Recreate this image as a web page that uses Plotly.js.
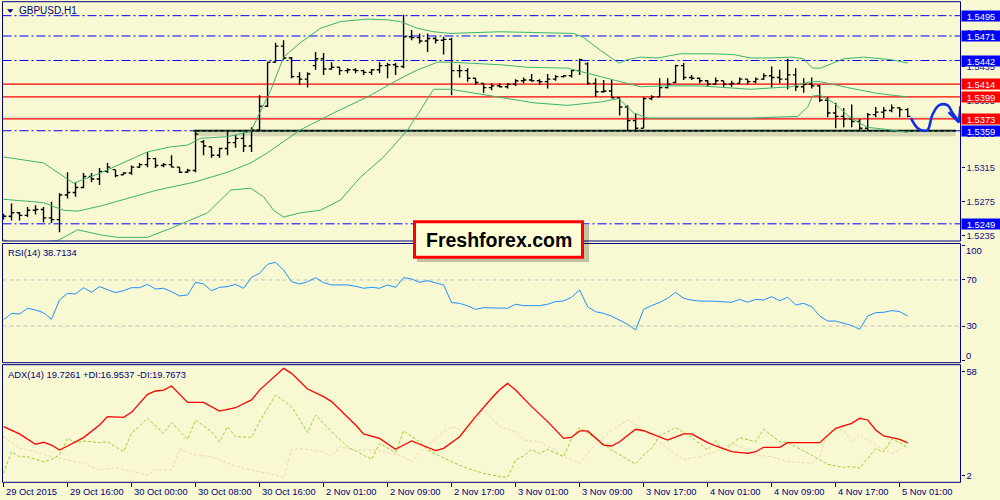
<!DOCTYPE html>
<html><head><meta charset="utf-8">
<script src="https://cdn.plot.ly/plotly-3.0.1.min.js"></script>
<style>html,body{margin:0;padding:0;background:#F8F8D2;}#chart{width:1000px;height:500px;}</style>
</head><body><div id="chart"></div><script>
// ---------- DATA ----------
const timeLabels = ['29 Oct 2015','29 Oct 16:00','30 Oct 00:00','30 Oct 08:00','30 Oct 16:00','2 Nov 01:00','2 Nov 09:00','2 Nov 17:00','3 Nov 01:00','3 Nov 09:00','3 Nov 17:00','4 Nov 01:00','4 Nov 09:00','4 Nov 17:00','5 Nov 01:00'];
const timeLabelBars = [0,8,16,24,32,40,48,56,64,72,80,88,96,104,112];

const openP = [1.5256,1.5258,1.5262,1.5259,1.5265,1.5266,1.5256,1.5254,1.5283,1.5286,
1.5292,1.5305,1.5302,1.5311,1.5313,1.5307,1.5309,1.5316,1.5319,1.5326,
1.5318,1.5319,1.5316,1.5310,1.5312,1.5346,1.5340,1.5330,1.5338,1.5345,
1.5350,1.5341,1.5360,1.5388,1.5440,1.5459,1.5445,1.5423,1.5420,1.5436,
1.5444,1.5432,1.5434,1.5430,1.5431,1.5430,1.5428,1.5431,1.5436,1.5437,
1.5435,1.5470,1.5469,1.5465,1.5468,1.5466,1.5467,1.5430,1.5430,1.5421,
1.5415,1.5410,1.5412,1.5411,1.5414,1.5418,1.5419,1.5418,1.5417,1.5420,
1.5423,1.5424,1.5430,1.5438,1.5415,1.5405,1.5406,1.5398,1.5387,1.5371,
1.5362,1.5397,1.5399,1.5410,1.5416,1.5436,1.5422,1.5421,1.5418,1.5414,
1.5418,1.5414,1.5415,1.5420,1.5417,1.5420,1.5424,1.5422,1.5420,1.5425,
1.5411,1.5414,1.5412,1.5395,1.5380,1.5376,1.5373,1.5370,1.5362,1.5378,
1.5381,1.5383,1.5386,1.5384];
const highP = [1.5261,1.5273,1.5263,1.5269,1.5271,1.5269,1.5275,1.5285,1.5310,1.5298,
1.5309,1.5309,1.5315,1.5321,1.5313,1.5310,1.5318,1.5321,1.5334,1.5327,
1.5321,1.5330,1.5316,1.5314,1.5360,1.5348,1.5340,1.5339,1.5360,1.5354,
1.5357,1.5363,1.5401,1.5440,1.5463,1.5466,1.5446,1.5428,1.5428,1.5452,
1.5451,1.5440,1.5434,1.5433,1.5433,1.5431,1.5432,1.5440,1.5439,1.5439,
1.5496,1.5478,1.5474,1.5474,1.5470,1.5470,1.5469,1.5437,1.5433,1.5421,
1.5415,1.5415,1.5415,1.5415,1.5420,1.5422,1.5426,1.5420,1.5426,1.5425,
1.5425,1.5431,1.5444,1.5440,1.5421,1.5419,1.5419,1.5398,1.5389,1.5380,
1.5399,1.5401,1.5421,1.5421,1.5437,1.5439,1.5425,1.5422,1.5419,1.5422,
1.5418,1.5418,1.5422,1.5420,1.5422,1.5427,1.5435,1.5431,1.5444,1.5433,
1.5421,1.5422,1.5413,1.5399,1.5392,1.5386,1.5390,1.5373,1.5380,1.5387,
1.5387,1.5390,1.5387,1.5386];
const lowP = [1.5254,1.5253,1.5253,1.5257,1.5260,1.5251,1.5250,1.5239,1.5279,1.5281,
1.5291,1.5298,1.5295,1.5309,1.5304,1.5307,1.5307,1.5315,1.5316,1.5315,
1.5316,1.5316,1.5309,1.5309,1.5310,1.5330,1.5327,1.5327,1.5330,1.5339,
1.5334,1.5334,1.5360,1.5387,1.5440,1.5443,1.5421,1.5413,1.5410,1.5431,
1.5425,1.5431,1.5425,1.5427,1.5427,1.5425,1.5425,1.5427,1.5421,1.5425,
1.5433,1.5466,1.5462,1.5452,1.5462,1.5449,1.5401,1.5422,1.5417,1.5413,
1.5404,1.5407,1.5410,1.5409,1.5412,1.5415,1.5417,1.5413,1.5409,1.5418,
1.5422,1.5422,1.5425,1.5413,1.5399,1.5404,1.5398,1.5377,1.5360,1.5358,
1.5362,1.5395,1.5399,1.5409,1.5415,1.5419,1.5419,1.5415,1.5412,1.5413,
1.5411,1.5411,1.5415,1.5414,1.5415,1.5419,1.5410,1.5415,1.5408,1.5406,
1.5404,1.5409,1.5393,1.5375,1.5362,1.5363,1.5363,1.5359,1.5359,1.5375,
1.5374,1.5381,1.5375,1.5375];
const closeP = [1.5258,1.5262,1.5259,1.5265,1.5266,1.5256,1.5254,1.5283,1.5286,1.5292,
1.5305,1.5302,1.5311,1.5316,1.5306,1.5309,1.5316,1.5319,1.5326,1.5318,
1.5319,1.5316,1.5310,1.5312,1.5355,1.5341,1.5330,1.5338,1.5345,1.5350,
1.5341,1.5360,1.5388,1.5440,1.5459,1.5445,1.5423,1.5420,1.5426,1.5444,
1.5432,1.5434,1.5430,1.5431,1.5430,1.5428,1.5431,1.5436,1.5437,1.5435,
1.5470,1.5469,1.5465,1.5468,1.5466,1.5467,1.5430,1.5430,1.5421,1.5416,
1.5410,1.5412,1.5411,1.5414,1.5418,1.5419,1.5418,1.5417,1.5420,1.5423,
1.5424,1.5430,1.5443,1.5415,1.5405,1.5406,1.5398,1.5387,1.5371,1.5362,
1.5397,1.5399,1.5410,1.5414,1.5436,1.5422,1.5421,1.5418,1.5414,1.5418,
1.5414,1.5415,1.5420,1.5417,1.5420,1.5424,1.5422,1.5420,1.5425,1.5411,
1.5414,1.5412,1.5395,1.5380,1.5376,1.5373,1.5370,1.5362,1.5378,1.5381,
1.5383,1.5386,1.5384,1.5376];

// Bollinger bands (bar, price)
const bbUpper = [[0,1.5328],[5,1.5321],[8.75,1.5297],[12.1,1.5309],[18,1.5334],[20.9,1.5340],[23,1.5342],[24.6,1.5350],[28,1.5352],[30.9,1.5358],[33.4,1.5407],[35,1.5446],[37.1,1.5463],[39.6,1.5480],[42.1,1.5488],[45.5,1.5491],[48,1.5490],[49.6,1.5488],[51.75,1.5480],[53.75,1.5476],[55.9,1.5474],[62.1,1.5476],[71.25,1.5474],[72.5,1.5469],[74.6,1.5454],[76.9,1.5439],[78,1.5443],[79.6,1.5446],[81.75,1.5445],[84.6,1.5450],[88.4,1.5450],[91.25,1.5449],[93.4,1.5445],[95.9,1.5445],[98.4,1.5446],[100,1.5444],[101.1,1.5433],[102.1,1.5433],[105,1.5444],[107.5,1.5446],[110.9,1.5443],[113,1.5439]];
const bbMiddle = [[0,1.5278],[5,1.5274],[7.5,1.5265],[9.25,1.5264],[12.1,1.5270],[15.9,1.5280],[19.25,1.5289],[23.75,1.5298],[28,1.5310],[30.9,1.5321],[33,1.5333],[37.1,1.5360],[41.25,1.5380],[45.5,1.5399],[49.25,1.5419],[51.75,1.5431],[54.25,1.5440],[55.9,1.5440],[62.1,1.5437],[65.5,1.5434],[70.5,1.5433],[74.6,1.5423],[78,1.5415],[79.6,1.5411],[83,1.5412],[87.1,1.5412],[93.4,1.5408],[98.4,1.5411],[100.9,1.5417],[102.1,1.5417],[105.5,1.5410],[109.25,1.5403],[113,1.5399]];
const bbLower = [[0,1.5230],[1.5,1.5226],[6.75,1.5229],[9.25,1.5242],[12.1,1.5236],[14.25,1.5233],[18,1.5233],[21.25,1.5245],[25.5,1.5262],[28.4,1.5289],[30.9,1.5291],[32.5,1.5281],[33.75,1.5265],[35,1.5257],[37.1,1.5262],[39.6,1.5265],[42.1,1.5277],[44.6,1.5304],[47.5,1.5328],[50.5,1.5360],[51.75,1.5378],[53.75,1.5408],[55.9,1.5408],[62.1,1.5398],[66.25,1.5392],[70.5,1.5389],[74.6,1.5393],[76.9,1.5397],[78.75,1.5380],[80.5,1.5374],[93.4,1.5374],[99.25,1.5376],[100.5,1.5387],[101.1,1.5400],[102.1,1.5401],[103.75,1.5392],[105.9,1.5374],[108,1.5363],[110,1.5361],[113,1.5357]];

// Horizontal levels
const blueLevels = [1.5495, 1.5471, 1.5442, 1.5359, 1.5249];
const redLevels = [1.5414, 1.5399, 1.5373];
const supportLevel = 1.5359;
const priceTicks = [1.5235, 1.5275, 1.5315, 1.5355, 1.5395, 1.5435, 1.5475];

// Hand-drawn forecast path (bar, price)
const forecastBar = [113.4,114.25,115,115.5,116.1,116.9,118,118.6,119.4];
const forecastPrice = [1.5374,1.5362,1.5359,1.5360,1.5378,1.5389,1.5389,1.5380,1.5370];
const arrowBar = [118.1,119.4,119.6];
const arrowPrice = [1.5381,1.5369,1.5388];

// RSI(14) per bar
const rsi = [35.2,41,40.4,45.4,43.9,41.6,35.8,52.6,58.4,57.8,
63.3,59.3,64.2,61.9,59,60.7,63.3,63.3,66.2,62.2,
62.8,59.8,56.1,57,68,66.5,60.7,63.6,64.2,66.2,
62.8,72.3,75.8,83.7,85.3,78.7,68.5,66.5,68.5,72,
67.7,65.7,65.7,65.7,64.5,62.8,63.6,62.8,65.7,63.6,
72,70.9,68,69.4,67.5,65.7,50.3,49.7,47.5,44.5,
45.9,45.9,45.9,45.4,48.9,47.7,47.7,47.7,48.9,51.2,
51.7,55,61.3,46.8,42.4,41,38.5,35,31.5,26.5,
44.5,47.7,50.5,54.1,59.3,54.1,52.5,51.7,51.7,51.5,
51,50.6,53.2,50.6,53.2,52.6,55.5,52,55,48.3,
49.7,46.8,38.7,34.3,34.3,32.5,30.5,27.1,38.7,41.6,
41.9,43.4,42.5,38.7];
const rsiLevels = [70, 30];

// ADX(14), +DI, -DI (bar, value)
const adx = [[0,28.4],[2,24.5],[4,18.9],[5,20],[6,18.5],[7,15.8],[8,18],[10,22.5],[12,29.3],[13,33.8],[15,33.4],[16,36.1],[18,45.8],[19,47.6],[20,48.1],[21,50.3],[23,41.5],[25,41.5],[27,36.8],[29,38.6],[31,42.8],[32,48.1],[35,59.8],[36,57.1],[38,48.7],[40,44.6],[41,41.9],[44,29.3],[45,24.5],[47,22.1],[49,16.2],[51,20.7],[54,15.5],[55,16.7],[57,23],[59,33.8],[61,43.7],[62,48.3],[63,51.7],[64,48.1],[66,39.2],[68,31.1],[70,22.1],[71,22.7],[72,26.1],[73,26.1],[75,18.5],[76,18],[77,20.3],[79,27],[80,26.2],[83,21.2],[85,24.5],[86,24.5],[88,19.8],[89,18],[91,14.9],[93,14],[94,14.9],[95,17.3],[97,17.3],[98,19.8],[102,19.8],[104,27.5],[106,30.2],[107,32.9],[108,32],[109,26.6],[110,23.4],[112,21.6],[113,19.7]];
const plusDI = [[0,3.3],[1,14.9],[2,12.2],[3,12.2],[5,9.5],[6,10.8],[7,13.1],[8,22.1],[9,19.8],[10,20.7],[12,19.8],[13,20.3],[15,14.9],[16,24.8],[18,32.9],[20,24.8],[21,30.6],[23,21.6],[24,32],[26,25.7],[27,20.3],[28,28.4],[29,23],[31,22.7],[32,31.1],[34,45.5],[36,39.2],[38,25.2],[39,34.7],[41,25.7],[43,17.6],[46,10.8],[47,19.4],[49,14.4],[50,26.2],[52,20.3],[53,15.8],[56,9.5],[58,5.9],[60,3.3],[62,1.5],[63,1.1],[64,10.5],[65,12.6],[66,16.2],[67,14],[68,16.2],[70,12.2],[71,22.1],[72,27.9],[74,22.1],[76,15.8],[79,8.3],[80,13.1],[81,16.7],[82,23.4],[84,27.9],[86,22.7],[88,15.8],[89,20.9],[90,15.5],[92,22.5],[94,20.3],[95,27],[97,20.3],[98,19.8],[101,13.1],[103,8.1],[105,6.5],[106,6.9],[107,6],[109,16.7],[110,14.9],[111,21.6],[112,19.8],[113,17.0]];
const minusDI = [[0,23],[2,16.7],[4,14.9],[6,12.2],[8,10.5],[10,8.7],[12,5],[14,6.5],[16,4.2],[18,2.4],[19,5.1],[21,5.1],[22,16.2],[24,13.1],[26,12.2],[28,8.7],[30,5.9],[33,3.3],[35,1.1],[36,15.8],[37,16.7],[40,14.9],[41,12.2],[42,17.6],[44,15.8],[47,15.8],[50,12.2],[51,9.5],[53,18.5],[55,25.7],[56,28.4],[58,25.7],[60,37.4],[62,28.4],[64,25.7],[65,21.2],[67,20.3],[69,15.8],[70,12.2],[72,8.7],[74,19.4],[76,26.6],[78,32],[80,26.6],[81,23],[83,16.7],[85,10.8],[87,12.2],[89,14.9],[91,19.4],[92,18],[94,13.1],[96,12.2],[98,9.5],[101,8.7],[102,12.2],[103,26.6],[105,26.6],[106,20.3],[107,23.9],[109,18.5],[111,14],[112,15.5],[113,19.8]];
const adxTicks = [2, 58];

const titleText = 'GBPUSD,H1';
const rsiText = 'RSI(14) 38.7134';
const adxText = 'ADX(14) 19.7261 +DI:16.9537 -DI:19.7673';
const brandText = 'Freshforex.com';

// ---------- BUILD ----------
const bars = openP.map((_, i) => i);
const NAVY = '#000080';
const FONT = 'Liberation Sans, Arial, sans-serif';
const FS = 9.4;
const xs = a => a.map(p => p[0]);
const ys = a => a.map(p => p[1]);

const traces = [
  {type:'scatter',mode:'lines',x:xs(bbUpper),y:ys(bbUpper),line:{color:'#3CB371',width:1},xaxis:'x',yaxis:'y',hoverinfo:'skip'},
  {type:'scatter',mode:'lines',x:xs(bbMiddle),y:ys(bbMiddle),line:{color:'#3CB371',width:1},xaxis:'x',yaxis:'y',hoverinfo:'skip'},
  {type:'scatter',mode:'lines',x:xs(bbLower),y:ys(bbLower),line:{color:'#3CB371',width:1},xaxis:'x',yaxis:'y',hoverinfo:'skip'},
  {type:'ohlc',x:bars,open:openP,high:highP,low:lowP,close:closeP,tickwidth:0.35,
   increasing:{line:{color:'#000000',width:1.4}},decreasing:{line:{color:'#000000',width:1.4}},
   xaxis:'x',yaxis:'y',hoverinfo:'skip'},
  {type:'scatter',mode:'lines',x:forecastBar,y:forecastPrice,line:{color:'#1030E0',width:2.6,shape:'spline'},xaxis:'x',yaxis:'y',hoverinfo:'skip'},
  {type:'scatter',mode:'lines',x:arrowBar,y:arrowPrice,line:{color:'#1030E0',width:2.6},xaxis:'x',yaxis:'y',hoverinfo:'skip'},
  {type:'scatter',mode:'lines',x:bars,y:rsi,line:{color:'#1E90FF',width:1},xaxis:'x',yaxis:'y2',hoverinfo:'skip'},
  {type:'scatter',mode:'lines',x:xs(minusDI),y:ys(minusDI),line:{color:'#F4D2B2',width:1,dash:'3px,2px'},xaxis:'x',yaxis:'y3',hoverinfo:'skip'},
  {type:'scatter',mode:'lines',x:xs(plusDI),y:ys(plusDI),line:{color:'#9ACD32',width:1,dash:'3px,2px'},xaxis:'x',yaxis:'y3',hoverinfo:'skip'},
  {type:'scatter',mode:'lines',x:xs(adx),y:ys(adx),line:{color:'#FF0000',width:1.3},xaxis:'x',yaxis:'y3',hoverinfo:'skip'}
];

const shapes = [];
const DASHDOT = '9px,3px,2px,3px';
blueLevels.forEach(v => shapes.push({type:'line',xref:'x domain',x0:0,x1:1,yref:'y',y0:v,y1:v,line:{color:'#0000FF',width:1,dash:DASHDOT},layer:'below'}));
redLevels.forEach(v => shapes.push({type:'line',xref:'x domain',x0:0,x1:1,yref:'y',y0:v,y1:v,line:{color:'#FF0000',width:1.3},layer:'below'}));
shapes.push({type:'line',xref:'x domain',x0:0,x1:1,yref:'y',y0:1.5375,y1:1.5375,line:{color:'#D8D8C8',width:1},layer:'below'});
// support line with shadow
shapes.push({type:'line',xref:'x',x0:23.75,x1:119,yref:'y',y0:supportLevel-0.0003,y1:supportLevel-0.0003,line:{color:'rgba(0,0,0,0.13)',width:6},layer:'below'});
shapes.push({type:'line',xref:'x',x0:23.75,x1:119,yref:'y',y0:supportLevel,y1:supportLevel,line:{color:'#000000',width:2},layer:'below'});
shapes.push({type:'line',xref:'x',x0:23.75,x1:119,yref:'y',y0:supportLevel-0.00005,y1:supportLevel-0.00005,line:{color:'#3CB371',width:1,dash:'3px,3px'},layer:'below'});
// RSI levels
rsiLevels.forEach(v => shapes.push({type:'line',xref:'x domain',x0:0,x1:1,yref:'y2',y0:v,y1:v,line:{color:'#C0C0C0',width:1,dash:'4px,3px'},layer:'below'}));
// panel borders
const panels = [[0.9966,0.518],[0.513,0.2746],[0.2706,0.0354]];
panels.forEach(p => shapes.push({type:'rect',xref:'paper',yref:'paper',x0:0.0025,x1:0.9605,y0:p[1],y1:p[0],line:{color:NAVY,width:1},fillcolor:'rgba(0,0,0,0)',layer:'above'}));
// title triangle
shapes.push({type:'path',xref:'paper',yref:'paper',path:'M 0.007 0.9815 L 0.0135 0.9815 L 0.01025 0.974 Z',fillcolor:NAVY,line:{width:0},layer:'above'});
// watermark box
shapes.push({type:'rect',xref:'paper',yref:'paper',x0:0.417,x1:0.589,y0:0.476,y1:0.550,fillcolor:'rgba(0,0,0,0.22)',line:{width:0},layer:'above'});
shapes.push({type:'rect',xref:'paper',yref:'paper',x0:0.4145,x1:0.5825,y0:0.4855,y1:0.5565,fillcolor:'#FFFFD6',line:{color:'#FF0000',width:3},layer:'above'});

const annotations = [];
const levelBox = (v, col) => ({xref:'paper',yref:'y',x:0.9612,y:v,xanchor:'left',yanchor:'middle',text:v.toFixed(4),showarrow:false,bgcolor:col,font:{color:'#FFFFFF',size:FS,family:FONT},borderpad:0,height:10,width:38,align:'center'});
blueLevels.forEach(v => annotations.push(levelBox(v,'#0000FF')));
redLevels.forEach(v => annotations.push(levelBox(v,'#FF0000')));
timeLabels.forEach((t, k) => annotations.push({xref:'x',yref:'paper',x:timeLabelBars[k]+0.1,y:0.018,xanchor:'left',yanchor:'middle',text:t,showarrow:false,font:{color:NAVY,size:FS,family:FONT}}));
annotations.push({xref:'paper',yref:'paper',x:0.0165,y:0.979,xanchor:'left',yanchor:'middle',text:titleText,showarrow:false,font:{color:NAVY,size:10,family:FONT}});
annotations.push({xref:'paper',yref:'paper',x:0.006,y:0.4946,xanchor:'left',yanchor:'middle',text:rsiText,showarrow:false,font:{color:NAVY,size:FS,family:FONT}});
annotations.push({xref:'paper',yref:'paper',x:0.006,y:0.252,xanchor:'left',yanchor:'middle',text:adxText,showarrow:false,font:{color:NAVY,size:FS,family:FONT}});
annotations.push({xref:'paper',yref:'paper',x:0.964,y:0.5,xanchor:'left',yanchor:'middle',text:'100',showarrow:false,font:{color:NAVY,size:FS,family:FONT}});
annotations.push({xref:'paper',yref:'paper',x:0.964,y:0.29,xanchor:'left',yanchor:'middle',text:'0',showarrow:false,font:{color:NAVY,size:FS,family:FONT}});
annotations.push({xref:'paper',yref:'paper',x:0.4985,y:0.521,xanchor:'center',yanchor:'middle',text:'<b>'+brandText+'</b>',showarrow:false,font:{color:'#000000',size:19.5,family:FONT}});

const axBase = {showgrid:false,zeroline:false,showline:false,fixedrange:true};
const layout = {
  width:1000,height:500,margin:{l:0,r:0,t:0,b:0},
  paper_bgcolor:'#F8F8D2',plot_bgcolor:'#F8F8D2',
  font:{family:FONT,color:NAVY,size:FS},
  showlegend:false,
  xaxis:Object.assign({},axBase,{domain:[0.0025,0.9605],range:[-0.125,119.6],anchor:'y3',ticks:'outside',ticklen:4,tickcolor:NAVY,tickvals:timeLabelBars,showticklabels:false,rangeslider:{visible:false}}),
  yaxis:Object.assign({},axBase,{domain:[0.518,0.9966],range:[1.52287,1.55115],side:'right',anchor:'x',ticks:'outside',ticklen:3,tickcolor:NAVY,tickvals:priceTicks,ticktext:priceTicks.map(v=>v.toFixed(4)),tickfont:{size:FS,color:'#1a1a80',family:FONT}}),
  yaxis2:Object.assign({},axBase,{domain:[0.2746,0.513],range:[-1.9,101.7],side:'right',anchor:'x',ticks:'outside',ticklen:3,tickcolor:NAVY,tickvals:[0,30,70,100],ticktext:['','30','70',''],tickfont:{size:FS,color:NAVY,family:FONT}}),
  yaxis3:Object.assign({},axBase,{domain:[0.0354,0.2706],range:[-1.56,61.77],side:'right',anchor:'x',ticks:'outside',ticklen:3,tickcolor:NAVY,tickvals:adxTicks,ticktext:adxTicks.map(String),tickfont:{size:FS,color:NAVY,family:FONT}}),
  shapes:shapes,annotations:annotations,hovermode:false
};
Plotly.newPlot('chart',traces,layout,{staticPlot:true,displayModeBar:false});
</script></body></html>
